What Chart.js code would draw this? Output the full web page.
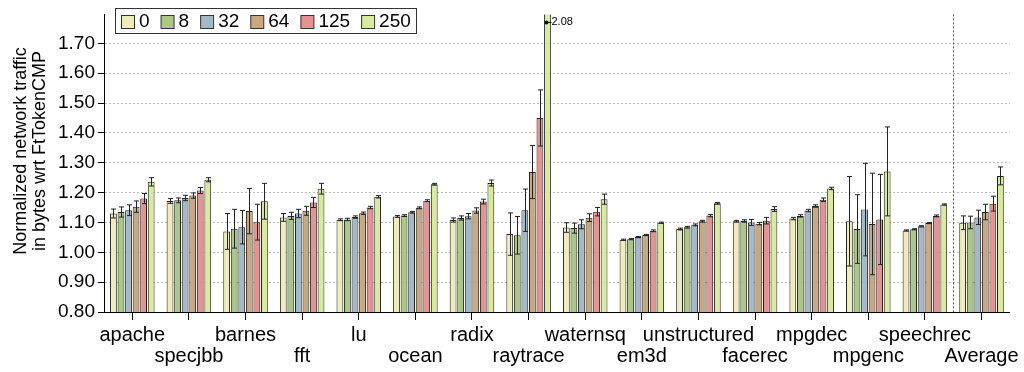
<!DOCTYPE html>
<html>
<head>
<meta charset="utf-8">
<script src="https://cdn.jsdelivr.net/npm/chart.js@4.4.1/dist/chart.umd.min.js"></script>
<style>
  html, body { margin: 0; padding: 0; background: #fff; }
  #wrap { width: 1024px; height: 372px; position: relative; }
</style>
</head>
<body>
<div id="wrap"><canvas id="chartCanvas"></canvas></div>
<script>
const categories = ['apache', 'specjbb', 'barnes', 'fft', 'lu', 'ocean', 'radix', 'raytrace',
  'waternsq', 'em3d', 'unstructured', 'facerec', 'mpgdec', 'mpgenc', 'speechrec', 'Average'];
const seriesNames = ['0', '8', '32', '64', '125', '250'];

const s0   = [1.130, 1.172, 1.070, 1.117, 1.109, 1.120, 1.108, 1.061, 1.083, 1.042, 1.078, 1.104, 1.113, 1.104, 1.073, 1.099];
const s8   = [1.135, 1.174, 1.079, 1.122, 1.110, 1.123, 1.115, 1.057, 1.081, 1.044, 1.084, 1.105, 1.122, 1.078, 1.077, 1.100];
const s32  = [1.141, 1.182, 1.084, 1.130, 1.118, 1.134, 1.121, 1.141, 1.094, 1.051, 1.092, 1.100, 1.140, 1.143, 1.087, 1.117];
const s64  = [1.153, 1.190, 1.138, 1.139, 1.131, 1.149, 1.140, 1.269, 1.116, 1.058, 1.104, 1.096, 1.155, 1.095, 1.098, 1.135];
const s125 = [1.180, 1.207, 1.101, 1.167, 1.150, 1.173, 1.170, 1.450, 1.136, 1.072, 1.123, 1.106, 1.176, 1.110, 1.122, 1.163];
const s250 = [1.236, 1.243, 1.171, 1.213, 1.186, 1.228, 1.232, 2.080, 1.178, 1.099, 1.164, 1.145, 1.214, 1.271, 1.160, 1.256];

// half-height of error bars
const e0   = [0.015, 0.008, 0.060, 0.013, 0.003, 0.003, 0.007, 0.071, 0.016, 0.002, 0.003, 0.003, 0.004, 0.150, 0.002, 0.023];
const e8   = [0.017, 0.008, 0.065, 0.012, 0.004, 0.003, 0.007, 0.063, 0.017, 0.002, 0.003, 0.004, 0.004, 0.115, 0.002, 0.021];
const e32  = [0.018, 0.009, 0.056, 0.014, 0.004, 0.003, 0.009, 0.071, 0.015, 0.002, 0.003, 0.010, 0.004, 0.155, 0.002, 0.024];
const e64  = [0.019, 0.009, 0.076, 0.015, 0.004, 0.003, 0.009, 0.089, 0.013, 0.002, 0.003, 0.004, 0.004, 0.170, 0.002, 0.026];
const e125 = [0.017, 0.010, 0.060, 0.017, 0.004, 0.003, 0.008, 0.094, 0.014, 0.003, 0.004, 0.011, 0.006, 0.151, 0.003, 0.025];
const e250 = [0.014, 0.007, 0.060, 0.018, 0.004, 0.003, 0.010, 0.000, 0.017, 0.002, 0.003, 0.008, 0.004, 0.149, 0.002, 0.030];

const yTitle = ['Normalized network traffic', 'in bytes wrt FtTokenCMP'];

const values = [s0, s8, s32, s64, s125, s250];
const errors = [e0, e8, e32, e64, e125, e250];
const colors = ['#efedb7', '#a9c982', '#a3b9c5', '#c9a87d', '#e89191', '#d9ea9b'];
const FONT = 'Arial, "Liberation Sans", Helvetica, sans-serif';

const errorBars = {
  id: 'errorBars',
  afterDatasetsDraw(chart) {
    const ctx = chart.ctx;
    const y = chart.scales.y;
    const area = chart.chartArea;
    ctx.save();
    ctx.beginPath();
    ctx.rect(area.left, area.top, area.right - area.left, area.bottom - area.top);
    ctx.clip();
    ctx.strokeStyle = '#222';
    ctx.lineWidth = 1;
    chart.data.datasets.forEach((ds, i) => {
      chart.getDatasetMeta(i).data.forEach((bar, j) => {
        const err = errors[i][j];
        if (!err) return;
        const x = Math.round(bar.x) + 0.5;
        const top = y.getPixelForValue(ds.data[j] + err);
        const bot = y.getPixelForValue(ds.data[j] - err);
        ctx.beginPath();
        ctx.moveTo(x, top); ctx.lineTo(x, bot);
        ctx.moveTo(x - 2.5, top); ctx.lineTo(x + 2.5, top);
        ctx.moveTo(x - 2.5, bot); ctx.lineTo(x + 2.5, bot);
        ctx.stroke();
      });
    });
    ctx.restore();
  }
};

const extras = {
  id: 'extras',
  afterDraw(chart) {
    const ctx = chart.ctx;
    const area = chart.chartArea;
    const xs = chart.scales.x;
    ctx.save();

    // separator before Average
    const sepX = Math.round((xs.getPixelForValue(14) + xs.getPixelForValue(15)) / 2) + 0.5;
    ctx.strokeStyle = '#555';
    ctx.setLineDash([2, 2]);
    ctx.beginPath();
    ctx.moveTo(sepX, area.top);
    ctx.lineTo(sepX, area.bottom);
    ctx.stroke();
    ctx.setLineDash([]);

    // off-scale value label
    chart.data.datasets.forEach((ds, i) => {
      chart.getDatasetMeta(i).data.forEach((bar, j) => {
        if (ds.data[j] <= chart.scales.y.max) return;
        const bx = bar.x - 1;
        const by = area.top + 8;
        ctx.fillStyle = '#000';
        ctx.beginPath();
        ctx.arc(bx, by, 2, 0, Math.PI * 2);
        ctx.fill();
        ctx.strokeStyle = '#000';
        ctx.beginPath();
        ctx.moveTo(bx, by); ctx.lineTo(bx + 5, by);
        ctx.stroke();
        ctx.font = '11px ' + FONT;
        ctx.textBaseline = 'middle';
        ctx.textAlign = 'left';
        ctx.fillText(ds.data[j].toFixed(2), bx + 5, by);
      });
    });

    // y axis title
    ctx.fillStyle = '#000';
    ctx.font = '18px ' + FONT;
    ctx.textAlign = 'center';
    ctx.textBaseline = 'middle';
    yTitle.forEach((line, k) => {
      ctx.save();
      ctx.translate(21 + k * 19, 151);
      ctx.rotate(-Math.PI / 2);
      ctx.fillText(line, 0, 0);
      ctx.restore();
    });

    // legend box
    const lx = 115.5, ly = 8.5, lw = 301, lh = 25;
    ctx.fillStyle = '#fff';
    ctx.fillRect(lx, ly, lw, lh);
    ctx.strokeStyle = '#333';
    ctx.lineWidth = 1;
    ctx.strokeRect(lx, ly, lw, lh);
    ctx.font = '19px ' + FONT;
    ctx.textAlign = 'left';
    let x = 121;
    chart.data.datasets.forEach(ds => {
      ctx.fillStyle = ds.backgroundColor;
      ctx.fillRect(x + 0.5, 15.5, 13, 13);
      ctx.strokeStyle = '#333';
      ctx.strokeRect(x + 0.5, 15.5, 13, 13);
      ctx.fillStyle = '#000';
      ctx.fillText(ds.label, x + 18, 22);
      x += 18 + ctx.measureText(ds.label).width + 11;
    });
    ctx.restore();
  }
};

const ctx = document.getElementById('chartCanvas').getContext('2d');
window.chart = new Chart(ctx, {
  type: 'bar',
  data: {
    labels: categories,
    datasets: seriesNames.map((name, i) => ({
      label: name,
      data: values[i],
      backgroundColor: colors[i],
      borderColor: '#222',
      borderWidth: 1,
      clip: 0,
      categoryPercentage: 0.8,
      barPercentage: 0.9
    }))
  },
  options: {
    responsive: true,
    maintainAspectRatio: false,
    animation: false,
    layout: { padding: { left: 0, top: 10, right: 13, bottom: 0 } },
    plugins: {
      legend: { display: false },
      tooltip: { enabled: false }
    },
    scales: {
      x: {
        afterFit: scale => { scale.height = 60; },
        grid: {
          drawOnChartArea: false,
          offset: false,
          tickLength: 8,
          color: '#000'
        },
        border: { color: '#000', width: 1 },
        ticks: {
          color: '#000',
          padding: 5,
          maxRotation: 0,
          autoSkip: false,
          font: { family: FONT, size: 20, lineHeight: 1.05 },
          callback: function (value, index) {
            const name = this.getLabelForValue(value);
            return index % 2 ? ['', name] : [name, ''];
          }
        }
      },
      y: {
        min: 0.8,
        max: 1.797,
        afterFit: scale => { scale.width = 104; },
        grid: {
          color: '#bbb',
          tickColor: '#000',
          tickLength: 6,
          lineWidth: 1
        },
        border: { color: '#000', width: 1, dash: [2, 2] },
        ticks: {
          stepSize: 0.1,
          includeBounds: false,
          color: '#000',
          padding: 3,
          font: { family: FONT, size: 19 },
          callback: v => v.toFixed(2)
        }
      }
    }
  },
  plugins: [errorBars, extras]
});
</script>
</body>
</html>
